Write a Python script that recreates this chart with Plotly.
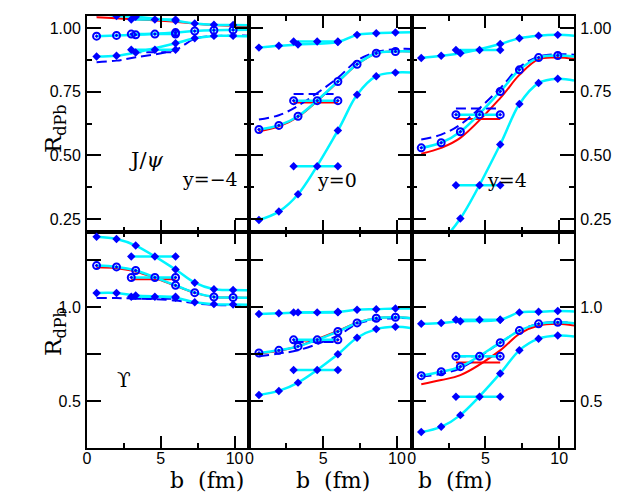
import plotly.graph_objects as go
from plotly.subplots import make_subplots

# impact parameter points (fm)
b_pts = [0.65, 2.0, 3.3, 6.0, 7.3, 8.6, 9.9]
b_line = [0.65, 2.0, 3.3, 6.0, 7.3, 8.6, 9.9, 11.0]
b_seg = [3.0, 4.6, 6.0]

# J/psi, y=-4
jpsi_m4_top = [1.062, 1.047, 1.044, 1.028, 1.018, 1.013, 1.012, 1.011]
jpsi_m4_top_seg = 1.033
jpsi_m4_circ = [0.968, 0.971, 0.973, 0.982, 0.988, 0.991, 0.992, 0.993]
jpsi_m4_circ_seg = 0.976
jpsi_m4_bot = [0.888, 0.891, 0.904, 0.940, 0.960, 0.969, 0.969, 0.968]
jpsi_m4_bot_seg = 0.915
jpsi_m4_red = [1.042, 1.038, 1.034, 1.024, 1.017, 1.012, 1.009, 1.008]
jpsi_m4_red_seg = None
jpsi_m4_dash = [0.866, 0.872, 0.885, 0.915, 0.958, 0.968, 0.970, 0.970]
jpsi_m4_dash_seg = 0.905

# J/psi, y=0
jpsi_0_top = [0.923, 0.930, 0.935, 0.945, 0.973, 0.979, 0.982, 0.983]
jpsi_0_top_seg = 0.947
jpsi_0_circ = [0.602, 0.618, 0.654, 0.790, 0.858, 0.901, 0.908, 0.908]
jpsi_0_circ_seg = 0.715
jpsi_0_bot = [0.247, 0.280, 0.348, 0.598, 0.738, 0.811, 0.825, 0.825]
jpsi_0_bot_seg = 0.458
jpsi_0_red = [0.595, 0.614, 0.651, 0.788, 0.857, 0.900, 0.908, 0.908]
jpsi_0_red_seg = 0.708
jpsi_0_dash = [0.641, 0.658, 0.695, 0.805, 0.872, 0.905, 0.917, 0.918]
jpsi_0_dash_seg = 0.741

# J/psi, y=4
jpsi_4_top = [0.882, 0.891, 0.901, 0.9375, 0.960, 0.970, 0.973, 0.970]
jpsi_4_top_seg = 0.914
jpsi_4_circ = [0.530, 0.550, 0.593, 0.751, 0.836, 0.884, 0.892, 0.888]
jpsi_4_circ_seg = 0.660
jpsi_4_bot = [0.12, 0.165, 0.253, 0.543, 0.702, 0.784, 0.801, 0.794]
jpsi_4_bot_seg = 0.383
jpsi_4_red = [0.507, 0.530, 0.569, 0.725, 0.816, 0.878, 0.884, 0.879]
jpsi_4_red_seg = 0.643
jpsi_4_dash = [0.5625, 0.582, 0.621, 0.764, 0.846, 0.888, 0.897, 0.895]
jpsi_4_dash_seg = 0.684

# Upsilon, y=-4
ups_m4_top = [1.375, 1.363, 1.328, 1.200, 1.130, 1.095, 1.091, 1.090]
ups_m4_top_seg = 1.270
ups_m4_circ = [1.221, 1.214, 1.195, 1.116, 1.077, 1.054, 1.051, 1.050]
ups_m4_circ_seg = 1.158
ups_m4_bot = [1.075, 1.075, 1.062, 1.050, 1.026, 1.016, 1.014, 1.013]
ups_m4_bot_seg = 1.055
ups_m4_red = [1.212, 1.207, 1.190, 1.114, 1.076, 1.054, 1.051, 1.050]
ups_m4_red_seg = 1.149
ups_m4_dash = [1.049, 1.048, 1.046, 1.035, 1.020, 1.012, 1.009, 1.009]
ups_m4_dash_seg = 1.045

# Upsilon, y=0
ups_0_top = [0.963, 0.967, 0.972, 0.975, 0.986, 0.989, 0.993, 0.993]
ups_0_top_seg = 0.972
ups_0_circ = [0.756, 0.770, 0.791, 0.870, 0.916, 0.941, 0.946, 0.941]
ups_0_circ_seg = 0.826
ups_0_bot = [0.532, 0.554, 0.598, 0.749, 0.837, 0.883, 0.895, 0.888]
ups_0_bot_seg = 0.665
ups_0_red = [0.753, 0.768, 0.792, 0.873, 0.917, 0.941, 0.946, 0.941]
ups_0_red_seg = 0.822
ups_0_dash = [0.738, 0.753, 0.770, 0.849, 0.911, 0.933, 0.941, 0.941]
ups_0_dash_seg = 0.814

# Upsilon, y=4
ups_4_top = [0.911, 0.916, 0.925, 0.933, 0.972, 0.975, 0.979, 0.977]
ups_4_top_seg = 0.933
ups_4_circ = [0.635, 0.656, 0.683, 0.811, 0.875, 0.911, 0.919, 0.914]
ups_4_circ_seg = 0.738
ups_4_bot = [0.335, 0.363, 0.425, 0.647, 0.770, 0.832, 0.849, 0.844]
ups_4_bot_seg = 0.523
ups_4_red = [0.589, 0.612, 0.638, 0.770, 0.858, 0.902, 0.911, 0.902]
ups_4_red_seg = 0.705
ups_4_dash = [0.630, 0.645, 0.675, 0.810, 0.875, 0.911, 0.920, 0.915]
ups_4_dash_seg = 0.738

# tick labels
top_yticks = [0.25, 0.50, 0.75, 1.00]
top_yticktext = ["0.25", "0.50", "0.75", "1.00"]
bot_yticks = [0.5, 0.75, 1.0, 1.25]
bot_yticktext = ["0.5", "", "1.0", ""]
xticks = [0, 5, 10]
xticktext = ["0", "5", "10"]

panels = [
    (1, 1, jpsi_m4_top, jpsi_m4_top_seg, jpsi_m4_circ, jpsi_m4_circ_seg, jpsi_m4_bot, jpsi_m4_bot_seg,
     jpsi_m4_red, jpsi_m4_red_seg, jpsi_m4_dash, jpsi_m4_dash_seg),
    (1, 2, jpsi_0_top, jpsi_0_top_seg, jpsi_0_circ, jpsi_0_circ_seg, jpsi_0_bot, jpsi_0_bot_seg,
     jpsi_0_red, jpsi_0_red_seg, jpsi_0_dash, jpsi_0_dash_seg),
    (1, 3, jpsi_4_top, jpsi_4_top_seg, jpsi_4_circ, jpsi_4_circ_seg, jpsi_4_bot, jpsi_4_bot_seg,
     jpsi_4_red, jpsi_4_red_seg, jpsi_4_dash, jpsi_4_dash_seg),
    (2, 1, ups_m4_top, ups_m4_top_seg, ups_m4_circ, ups_m4_circ_seg, ups_m4_bot, ups_m4_bot_seg,
     ups_m4_red, ups_m4_red_seg, ups_m4_dash, ups_m4_dash_seg),
    (2, 2, ups_0_top, ups_0_top_seg, ups_0_circ, ups_0_circ_seg, ups_0_bot, ups_0_bot_seg,
     ups_0_red, ups_0_red_seg, ups_0_dash, ups_0_dash_seg),
    (2, 3, ups_4_top, ups_4_top_seg, ups_4_circ, ups_4_circ_seg, ups_4_bot, ups_4_bot_seg,
     ups_4_red, ups_4_red_seg, ups_4_dash, ups_4_dash_seg),
]

CYAN = "#00f4ff"
BLUE = "#0000ff"
RED = "#ff0000"
DASH = "10px,5px"
diamond = dict(symbol="diamond", size=6.5, color=BLUE)
circle = dict(symbol="circle-open-dot", size=7, color=BLUE, line=dict(width=2, color=BLUE))

fig = make_subplots(rows=2, cols=3, horizontal_spacing=0, vertical_spacing=0)

for (r, c, top, top_s, circ, circ_s, bot, bot_s, red, red_s, dash, dash_s) in panels:
    fig.add_hline(y=1.0, row=r, col=c, line=dict(color="black", width=2))
    # red and dashed variants
    fig.add_trace(go.Scatter(x=b_line, y=red, mode="lines", line=dict(color=RED, width=2, shape="spline")),
                  row=r, col=c)
    if red_s is not None:
        fig.add_trace(go.Scatter(x=[b_seg[0], b_seg[-1]], y=[red_s, red_s], mode="lines",
                                 line=dict(color=RED, width=2)), row=r, col=c)
    fig.add_trace(go.Scatter(x=b_line, y=dash, mode="lines",
                             line=dict(color=BLUE, width=2, dash=DASH, shape="spline")), row=r, col=c)
    fig.add_trace(go.Scatter(x=[b_seg[0], b_seg[-1]], y=[dash_s, dash_s], mode="lines",
                             line=dict(color=BLUE, width=2, dash=DASH)), row=r, col=c)
    # cyan curves with markers
    for vals, seg, mk in [(top, top_s, diamond), (circ, circ_s, circle), (bot, bot_s, diamond)]:
        fig.add_trace(go.Scatter(x=b_line, y=vals, mode="lines", line=dict(color=CYAN, width=2.5, shape="spline")),
                      row=r, col=c)
        fig.add_trace(go.Scatter(x=b_seg, y=[seg] * len(b_seg), mode="lines+markers",
                                 line=dict(color=CYAN, width=2.5), marker=mk), row=r, col=c)
        fig.add_trace(go.Scatter(x=b_pts, y=vals[:len(b_pts)], mode="markers", marker=mk), row=r, col=c)

axis_common = dict(showline=True, linewidth=2, linecolor="black", mirror="ticks", ticks="inside",
                   tickwidth=2, tickcolor="black", showgrid=False, zeroline=False,
                   tickfont=dict(family="Liberation Sans", size=16, color="black"))

for r in (1, 2):
    for c in (1, 2, 3):
        fig.update_xaxes(range=[0, 11], tickvals=xticks, ticktext=xticktext, ticklen=12,
                         minor=dict(dtick=2.5, tick0=0, ticklen=5, tickwidth=2, tickcolor="black", ticks="inside"),
                         showticklabels=(r == 2), ticklabelstandoff=-5, row=r, col=c, **axis_common)
        if r == 1:
            yk = dict(range=[0.2, 1.047], tickvals=top_yticks, ticktext=top_yticktext,
                      minor=dict(dtick=0.125, tick0=0, ticklen=5, tickwidth=2, tickcolor="black", ticks="inside"))
        else:
            yk = dict(range=[0.25, 1.40], tickvals=bot_yticks, ticktext=bot_yticktext)
        fig.update_yaxes(ticklen=14, showticklabels=(c != 2), side=("right" if c == 3 else "left"),
                         ticklabelstandoff=1, row=r, col=c, **yk, **axis_common)

# pixel -> paper helpers
L, R, T, B = 79, 566, 6, 440


def px(x):
    return (x - L) / (R - L)


def py(y):
    return (B - y) / (B - T)


serif = "DejaVu Serif"
labels = [
    ("J/<i>ψ</i>", 119, 137, 21),
    ("y=−4", 172, 170, 19),
    ("y=0", 329, 171, 19),
    ("y=4", 521, 171, 19),
    ("ϒ", 107, 386, 20),
    ("b\u00a0\u00a0(fm)", 160, 487, 22),
    ("b\u00a0\u00a0(fm)", 325, 487, 22),
    ("b\u00a0\u00a0(fm)", 486, 487, 22),
]
for text, x, y, s in labels:
    fig.add_annotation(text=text, x=px(x), y=py(y), xref="paper", yref="paper", showarrow=False,
                       font=dict(family=serif, size=s, color="black"))
for y in (93, 350):
    fig.add_annotation(text="R<sub>dPb</sub>", x=px(30), y=py(y), xref="paper", yref="paper", showarrow=False,
                       textangle=-90, font=dict(family=serif, size=23, color="black"))

fig.update_layout(width=623, height=500, showlegend=False, plot_bgcolor="white", paper_bgcolor="white",
                  margin=dict(l=L, r=623 - R, t=T, b=500 - B))

fig.write_html("out.html")
